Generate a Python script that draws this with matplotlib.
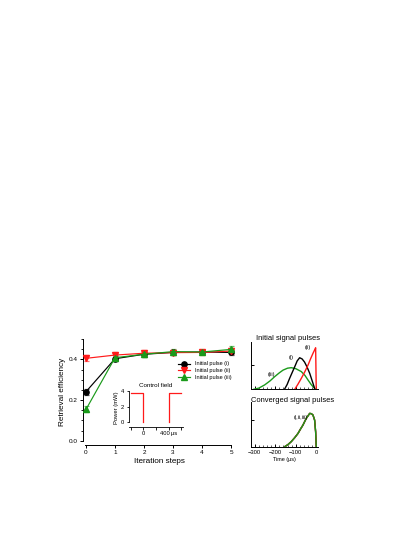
import matplotlib
matplotlib.use("Agg")
import matplotlib.pyplot as plt
from matplotlib.ticker import MultipleLocator, FixedLocator

plt.rcParams['font.family'] = ['Liberation Sans', 'DejaVu Sans']

W, H = 415, 537

def box(x0, y0, x1, y1):
    # pixel box (top-left origin) -> figure fraction rect
    return [x0 / W, 1 - y1 / H, (x1 - x0) / W, (y1 - y0) / H]

# retrieval efficiency vs iteration
steps = [0, 1, 2, 3, 4, 5]
eff_i = [0.241, 0.403, 0.425, 0.434, 0.436, 0.434]
err_i = [0.015, 0.012, 0.012, 0.012, 0.012, 0.014]
eff_ii = [0.405, 0.421, 0.430, 0.433, 0.434, 0.441]
err_ii = [0.015, 0.014, 0.014, 0.013, 0.012, 0.014]
eff_iii = [0.154, 0.408, 0.425, 0.438, 0.436, 0.449]
err_iii = [0.015, 0.012, 0.012, 0.014, 0.012, 0.016]
labels = ['Initial pulse (i)', 'Initial pulse (ii)', 'Initial pulse (iii)']

# control field inset
ctrl_t1 = [-200, 0, 0]
ctrl_p1 = [3.85, 3.85, 0]
ctrl_t2 = [400, 400, 600]
ctrl_p2 = [0, 3.85, 3.85]

# initial signal pulses
t_i = [-155, -142, -130, -117, -105, -93, -81, -69, -57, -45, -32, -20, -8]
p_i = [0, 0.2, 0.45, 0.7, 0.93, 1.17, 1.3, 1.25, 1.12, 0.92, 0.66, 0.35, 0.04]
t_ii = [-105, -90, -73, -56, -40, -28, -16, -8, -3, 0]
p_ii = [0, 0.2, 0.45, 0.72, 1.0, 1.25, 1.48, 1.62, 1.71, 0]
t_iii = [-305, -280, -252, -225, -203, -180, -162, -140, -122, -100, -73, -55, -40, -25, -16, -5]
p_iii = [0, 0.05, 0.18, 0.35, 0.52, 0.68, 0.79, 0.87, 0.89, 0.85, 0.73, 0.57, 0.38, 0.2, 0.11, 0.02]

# converged signal pulse
t_conv = [-154, -138, -122, -105, -89, -77, -65, -49, -32, -24, -16, -8, -3, 0]
p_conv = [0, 0.08, 0.19, 0.34, 0.5, 0.66, 0.81, 1.06, 1.25, 1.24, 1.19, 1.0, 0.56, 0]

GREEN = '#1a9a1a'
RED = '#ff1a1a'

fig = plt.figure(figsize=(W / 100, H / 100), dpi=100)

# ---- main panel
ax = fig.add_axes(box(83.1, 339, 235.4, 445))
specs = [(eff_i, err_i, 'black', 'o', '#555555'),
         (eff_ii, err_ii, RED, 'v', '#ff7070'),
         (eff_iii, err_iii, GREEN, '^', '#70c070')]
handles = []
for (vals, errs, c, m, ec), lab in zip(specs, labels):
    ax.errorbar(steps, vals, yerr=errs, fmt='none', ecolor=ec, elinewidth=0.9,
                capsize=1.8, capthick=0.9, zorder=2)
    h, = ax.plot(steps, vals, color=c, marker=m, ms=3.8, lw=0.85, label=lab, zorder=3)
    handles.append(h)
ax.set_xlim(-0.1, 5.15)
ax.set_ylim(-0.021, 0.5)
ax.spines['top'].set_visible(False)
ax.spines['right'].set_visible(False)
ax.spines['left'].set_bounds(0, 0.5)
ax.spines['bottom'].set_bounds(-0.05, 5)
for s in ax.spines.values():
    s.set_linewidth(0.7)
ax.set_xticks(steps)
ax.set_yticks([0.0, 0.2, 0.4])
ax.yaxis.set_minor_locator(MultipleLocator(0.05))
ax.tick_params(labelsize=4.6, width=0.7, length=2.4, pad=1.5)
ax.tick_params(which='minor', width=0.6, length=1.5)
ax.set_xlabel('Iteration steps', fontsize=5.9, labelpad=2)
ax.set_ylabel('Retrieval efficiency', fontsize=5.9, labelpad=1.8)
ax.legend(handles=handles, loc='upper left',
          bbox_to_anchor=((178 / W - 0.2002) / 0.3669, (1 - 361.5 / H - 0.1713) / 0.1974),
          fontsize=4.0, frameon=False, handlelength=2.2, handletextpad=0.9,
          labelspacing=0.33, borderaxespad=0, borderpad=0)

# ---- inset: control field
ins = fig.add_axes(box(129, 389.5, 183, 426.7))
ins.plot(ctrl_t1, ctrl_p1, color=RED, lw=0.9)
ins.plot(ctrl_t2, ctrl_p2, color=RED, lw=0.9)
ins.set_xlim(-225, 625)
ins.set_ylim(-0.58, 4.25)
ins.spines['top'].set_visible(False)
ins.spines['right'].set_visible(False)
ins.spines['left'].set_bounds(0, 4.1)
for s in ins.spines.values():
    s.set_linewidth(0.6)
ins.set_yticks([0, 2, 4])
ins.set_xticks([0, 400])
ins.set_xticklabels(['0', '400\u2009\u03bcs'])
ins.xaxis.set_minor_locator(FixedLocator([-200, 200, 600]))
ins.tick_params(labelsize=4.2, width=0.6, length=1.8, pad=1.5)
ins.tick_params(which='minor', width=0.6, length=1.8)
ins.set_ylabel('Power (mW)', fontsize=4.2, labelpad=1.5)
ins.set_title('Control field', fontsize=4.5, pad=2)

# ---- right top: initial signal pulses
axt = fig.add_axes(box(251.3, 341.7, 318.3, 389.3))
axt.plot(t_iii, p_iii, color=GREEN, lw=1.0)
axt.plot(t_i, p_i, color='black', lw=1.0)
axt.plot(t_ii, p_ii, color=RED, lw=1.0)
axt.set_xlim(-317, 10)
axt.set_ylim(0, 1.96)
axt.text(-40, 1.73, '(ii)', fontsize=4.0, ha='center', va='center')
axt.text(-124, 1.3, '(i)', fontsize=4.0, ha='center', va='center')
axt.text(-220, 0.59, '(iii)', fontsize=4.0, ha='center', va='center')
fig.text(288 / W, 1 - 338.3 / H, 'Initial signal pulses', fontsize=5.4, ha='center', va='center')

# ---- right bottom: converged signal pulses
axb = fig.add_axes(box(251.3, 401.7, 318.3, 446.7))
axb.plot(t_conv, p_conv, color='black', lw=1.0)
axb.plot(t_conv, p_conv, color=RED, lw=1.0)
axb.plot(t_conv, p_conv, color=GREEN, lw=1.0)
axb.set_xlim(-317, 10)
axb.set_ylim(0, 1.69)
axb.text(-75, 1.1, '(i,ii,iii)', fontsize=4.0, ha='center', va='center')
fig.text(293 / W, 1 - 400 / H, 'Converged signal pulses', fontsize=5.4, ha='center', va='center')
axb.set_xlabel('Time (\u03bcs)', fontsize=4.0, labelpad=1)

for a in (axt, axb):
    a.spines['top'].set_visible(False)
    a.spines['right'].set_visible(False)
    for s in a.spines.values():
        s.set_linewidth(0.7)
    a.set_yticks([1])
    a.set_yticklabels([])
    a.set_xticks([-300, -200, -100, 0])
    a.xaxis.set_minor_locator(MultipleLocator(20))
    a.tick_params(axis='y', width=0.7, length=2.4, direction='in')
    a.tick_params(axis='x', which='minor', width=0.6, length=1.3, direction='in', color='#444444')
    a.tick_params(axis='x', which='major', width=0.7, length=2.0, direction='in',
                  labelsize=4.2, pad=2.5)
axt.set_xticklabels([])

fig.savefig('out.png', dpi=100)
